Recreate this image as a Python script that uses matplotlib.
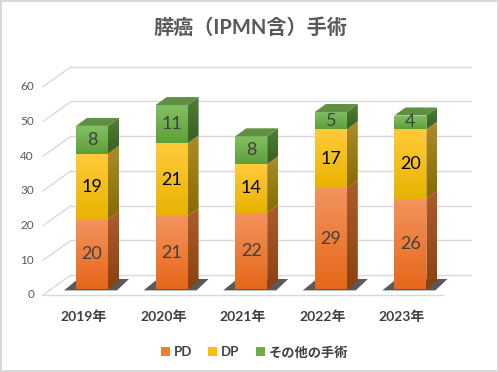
import numpy as np
import matplotlib
matplotlib.use("Agg")
import matplotlib.pyplot as plt
from matplotlib.patches import Polygon, Patch
from matplotlib.colors import LinearSegmentedColormap

plt.rcParams['font.family'] = ['Lato', 'Noto Sans CJK JP', 'DejaVu Sans']

# ---- data ----
categories = ['2019年', '2020年', '2021年', '2022年', '2023年']
pd_vals = [20, 21, 22, 29, 26]
dp_vals = [19, 21, 14, 17, 20]
other_vals = [8, 11, 8, 5, 4]
series_names = ['PD', 'DP', 'その他の手術']
yticks = [0, 10, 20, 30, 40, 50, 60]
title = '膵癌（IPMN含）手術'

# ---- layout (pixels) ----
W, H = 499, 372
UX = 79.6      # px per category
UY = 3.47      # px per value unit
PX_XM = 52.2   # pixel x of data x=-0.5
PX_Y0 = 289.0  # pixel y of value 0 at bar front plane

fig = plt.figure(figsize=(W / 100, H / 100), dpi=100)
fig.patch.set_facecolor('white')
fig.patch.set_edgecolor('#d9d9d9')
fig.patch.set_linewidth(1.5)
ax = fig.add_axes([0, 0, 1, 1])
ax.set_xlim((0 - PX_XM) / UX - 0.5, (W - PX_XM) / UX - 0.5)
ax.set_ylim((PX_Y0 - H) / UY, PX_Y0 / UY)
ax.axis('off')


def px2d(px, py):
    return (px - PX_XM) / UX - 0.5, (PX_Y0 - py) / UY


# depth offsets (data units)
ddx, ddy = 11 / UX, 8 / UY          # bar depth
fx, fy = -8.4 / UX, -6 / UY         # front plane relative to bar fronts
bx, by = 19.6 / UX, 14 / UY         # back wall relative to bar fronts
xl_front = px2d(43, 0)[0]
xr_front = px2d(443, 0)[0]
xr_back = px2d(471, 0)[0]
xl_back = xl_front + (bx - fx)

grid_c = '#d9d9d9'
for v in yticks:
    ax.plot([xl_front, xl_back], [v + fy, v + by], color=grid_c, lw=1, zorder=1)
    ax.plot([xl_back, xr_back], [v + by, v + by], color=grid_c, lw=1, zorder=1)
    ax.text(px2d(34, 0)[0], v + fy, str(v), ha='right', va='center',
            fontsize=8.5, color='#595959')
ax.plot([xl_front, xr_front], [fy, fy], color=grid_c, lw=1, zorder=1)

x = np.arange(len(categories))
bw = 32 / UX

front_cols = [('#F3935E', '#E6681A'), ('#FFCB3A', '#E8B300'), ('#84C064', '#5C9F38')]
side_cols = [('#AE5B2C', '#8A4210'), ('#AC8C2A', '#876A00'), ('#4F7E36', '#386022')]
top_cols = ['#C7642E', '#C89A1C', '#5F9042']
label_cols = ['#404040', '#000000', '#404040']


def grad_fill(patch, c_top, c_bot, extent, z):
    cmap = LinearSegmentedColormap.from_list('g', [c_bot, c_top])
    g = np.linspace(0, 1, 64).reshape(-1, 1)
    im = ax.imshow(g, cmap=cmap, extent=extent, origin='lower',
                   aspect='auto', zorder=z, interpolation='bilinear')
    im.set_clip_path(patch)


series = [pd_vals, dp_vals, other_vals]
bottoms = np.zeros(len(categories))

# shadows
for i in x:
    x0, x1 = i - bw / 2, i + bw / 2
    sh = Polygon([(x0 - 12 / UX, -0.4), (x0 + 2 / UX, 10 / UY),
                  (x1 + 21 / UX, 10 / UY), (x1 + 9 / UX, -0.4)],
                 closed=True, facecolor='#3c3c3c', edgecolor='none',
                 alpha=0.85, zorder=2)
    ax.add_patch(sh)

for s, vals in enumerate(series):
    bars = ax.bar(x, vals, width=bw, bottom=bottoms, color='none',
                  edgecolor='none', zorder=4)
    for i, (b, v) in enumerate(zip(bottoms, vals)):
        x0, x1 = i - bw / 2, i + bw / 2
        t = b + v
        grad_fill(bars[i], front_cols[s][0], front_cols[s][1],
                  [x0, x1, b, t], 4)
        side = Polygon([(x1, b), (x1 + ddx, b + ddy), (x1 + ddx, t + ddy), (x1, t)],
                       closed=True, facecolor='none', edgecolor='none')
        ax.add_patch(side)
        grad_fill(side, side_cols[s][0], side_cols[s][1],
                  [x1, x1 + ddx, b, t + ddy], 4)
        if s == len(series) - 1:
            top = Polygon([(x0, t), (x0 + ddx, t + ddy), (x1 + ddx, t + ddy), (x1, t)],
                          closed=True, facecolor=top_cols[s], edgecolor='none', zorder=4)
            ax.add_patch(top)
        ax.text(i, b + v / 2, str(v), ha='center', va='center',
                fontsize=13, color=label_cols[s], zorder=6)
    bottoms = bottoms + np.array(vals)

for i, c in enumerate(categories):
    cx, cy = i + fx, px2d(0, 317)[1]
    ax.text(cx, cy, c, ha='center', va='center', fontsize=10,
            fontweight='bold', color='#404040')

tx, ty = px2d(250, 28)
ax.text(tx, ty, title, ha='center', va='center', fontsize=14.5,
        fontweight='bold', color='#595959')

leg_cols = ['#ED7D31', '#FFC000', '#70AD47']
handles = [Patch(facecolor=c, edgecolor='none') for c in leg_cols]
fig.legend(handles, series_names, loc='center', bbox_to_anchor=(0.51, 1 - 352 / H),
           ncol=3, frameon=False, handlelength=0.7, handleheight=0.7,
           handletextpad=0.3, columnspacing=1.2,
           prop={'size': 9.5, 'weight': 'bold'}, labelcolor='#404040')

fig.savefig('out.png', dpi=100)
